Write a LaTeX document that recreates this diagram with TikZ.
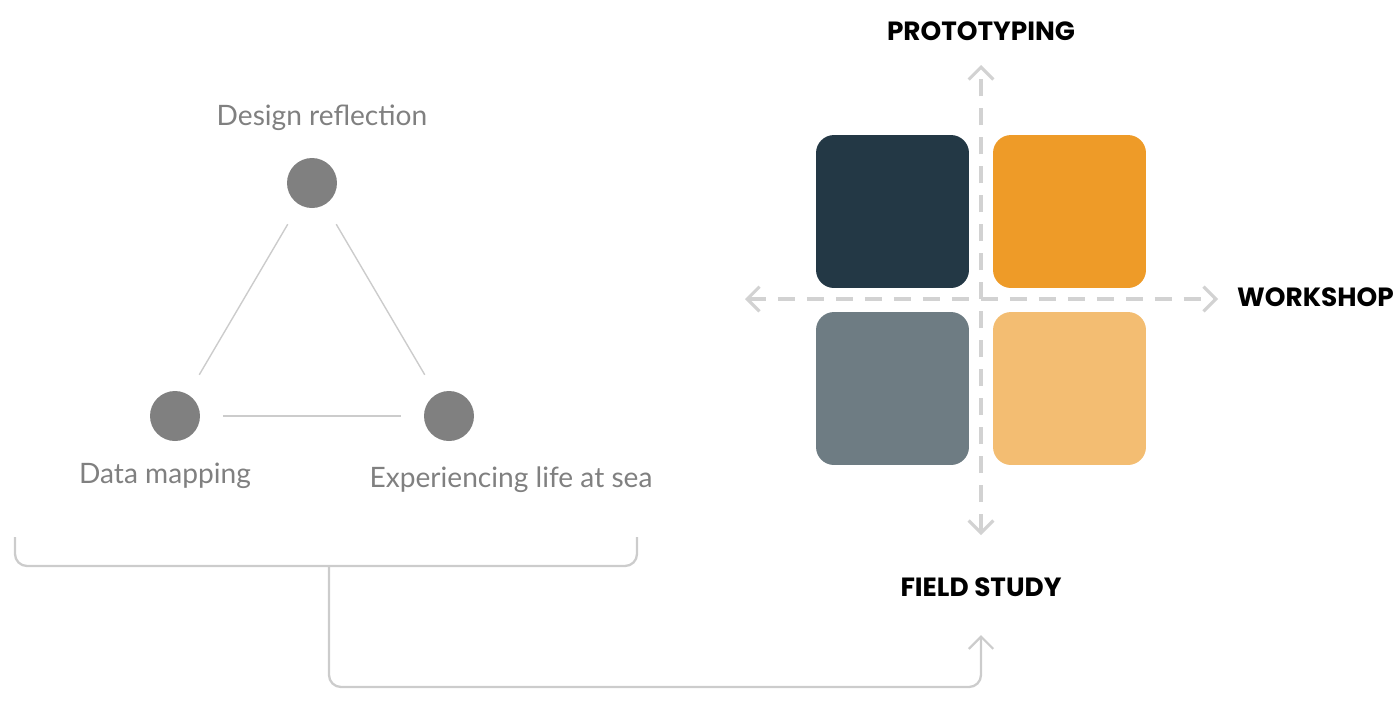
\documentclass[tikz,border=0pt]{standalone}
\usepackage{fontspec}
\setmainfont{Lato}
\newfontfamily\headfont{Poppins}
\definecolor{qdark}{HTML}{233845}
\definecolor{qorange}{HTML}{EE9B28}
\definecolor{qslate}{HTML}{6E7C83}
\definecolor{qsand}{HTML}{F3BD72}
\definecolor{dotgray}{HTML}{808080}
\definecolor{linegray}{HTML}{CCCCCC}
\definecolor{axisgray}{HTML}{D2D2D2}
\usetikzlibrary{arrows.meta,positioning}

\begin{document}
\begin{tikzpicture}[x=0.02cm,y=-0.02cm,
  dot/.style={circle,fill=dotgray,minimum size=1cm,inner sep=0pt},
  dotlabel/.style={text=dotgray,font=\fontsize{16}{19}\selectfont},
  link/.style={draw=linegray,line width=0.8pt,shorten <=0.45cm,shorten >=0.45cm},
  tile/.style={rounded corners=0.36cm,minimum size=3.06cm,inner sep=0pt},
  axisline/.style={draw=axisgray,line width=1.8pt,dash pattern=on 0.34cm off 0.24cm,
    {Straight Barb[length=7pt,width=14pt]}-{Straight Barb[length=7pt,width=14pt]}},
  axislabel/.style={font=\headfont\bfseries\fontsize{15}{18}\selectfont},
  bracket/.style={draw=linegray,line width=1.3pt,rounded corners=0.24cm}]

  \useasboundingbox (0,0) rectangle (1400,708);

  %% Triangle of activities
  \node[dot] (design) at (312,183) {};
  \node[dot] (data)   at (175,416) {};
  \node[dot] (sea)    at (449,416) {};

  \node[dotlabel] (design lbl) at (322,118) {Design reflection};
  \node[dotlabel] (data lbl)   at (165,476) {Data mapping};
  \node[dotlabel] (sea lbl)    at (511,480) {Experiencing life at sea};

  \draw[link] (design) -- (data);
  \draw[link] (design) -- (sea);
  \draw[link] (data) -- (sea);

  %% Bracket and connector
  \coordinate (brk l) at (15,537);
  \coordinate (brk r) at (637,537);
  \coordinate (brk) at (329,566);
  \coordinate (turn) at (329,687);
  \coordinate (fs tip) at (981,635);
  \draw[bracket] (brk l) -- (15,566) -- (637,566) -- (brk r);
  \draw[bracket,-{Straight Barb[length=7pt,width=14pt]}] (brk) -- (turn) -| (fs tip);

  %% Quadrant
  \node[tile,fill=qdark]   (q1) at (892.5,211.5)  {};
  \node[tile,fill=qorange] (q2) at (1069.5,211.5) {};
  \node[tile,fill=qslate]  (q3) at (892.5,388.5)  {};
  \node[tile,fill=qsand]   (q4) at (1069.5,388.5) {};

  \coordinate (ax n) at (981,65);
  \coordinate (ax s) at (981,535);
  \coordinate (ax w) at (745,299);
  \coordinate (ax e) at (1218,299);
  \draw[axisline] (ax s) -- (ax n);
  \draw[axisline] (ax w) -- (ax e);

  \node[axislabel] (proto) at (981,31) {PROTOTYPING};
  \node[axislabel,anchor=west] (work) at (1231,297) {WORKSHOP};
  \node[axislabel] (field) at (981,587) {FIELD STUDY};

\end{tikzpicture}
\end{document}
